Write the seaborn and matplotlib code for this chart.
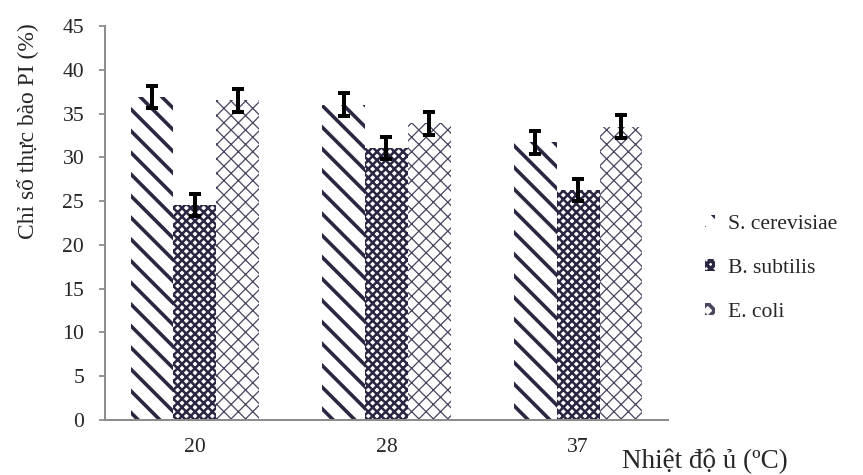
import pandas as pd
import matplotlib as mpl
import matplotlib.pyplot as plt
import numpy as np
import seaborn as sns

sns.set_style('white')
plt.rcParams['font.family'] = ['Liberation Serif', 'DejaVu Serif']
mpl.rcParams['hatch.linewidth'] = 2.0

temps = ['20', '28', '37']
strains = ['S. cerevisiae', 'B. subtilis', 'E. coli']
s_cerevisiae = [36.9, 36.0, 31.7]
b_subtilis = [24.6, 31.1, 26.3]
e_coli = [36.5, 33.9, 33.5]
err_sc = [1.3, 1.3, 1.3]
err_bs = [1.25, 1.25, 1.25]
err_ec = [1.3, 1.3, 1.3]

df = pd.DataFrame({
    'temp': temps * 3,
    'strain': np.repeat(strains, 3),
    'pi': s_cerevisiae + b_subtilis + e_coli,
})
errs = [err_sc, err_bs, err_ec]
hatches = ['\\\\', 'xxxxx', 'xxx']
edges = ['#2b2742', '#2b2742', '#4a4660']
hlw = [2.0, 1.4, 0.7]

dpi = 130
fig = plt.figure(figsize=(863 / dpi, 475 / dpi), dpi=dpi)
ax = fig.add_axes([105 / 863, 1 - 420 / 475, 563 / 863, 394 / 475])

sns.barplot(data=df, x='temp', y='pi', hue='strain', order=temps, hue_order=strains,
            palette=['white'] * 3, width=0.67, errorbar=None, ax=ax, legend=False)

for cont, h, ec, lw, e in zip(ax.containers, hatches, edges, hlw, errs):
    xs, ys = [], []
    for p in cont.patches:
        p.set_hatch(h)
        p.set_edgecolor(ec)
        p.set_linewidth(0)
        if hasattr(p, 'set_hatch_linewidth'):
            p.set_hatch_linewidth(lw)
        xs.append(p.get_x() + p.get_width() / 2)
        ys.append(p.get_height())
    ax.errorbar(xs, ys, yerr=e, fmt='none', ecolor='black', elinewidth=2.2,
                capsize=3.5, capthick=2.2, zorder=5)

ax.set_ylim(0, 45)
ax.set_yticks(range(0, 50, 5))
ax.set_xlabel('')
ax.set_ylabel('')
sns.despine(ax=ax)
for s in ['left', 'bottom']:
    ax.spines[s].set_color('#8c8c8c')
    ax.spines[s].set_linewidth(1.1)
ax.tick_params(axis='y', direction='out', length=3.5, width=1.0, color='#8c8c8c',
               left=True, labelsize=12, pad=8)
ax.tick_params(axis='x', length=0, labelsize=12, pad=10)

fig.text(27 / 863, 1 - 131 / 475, 'Chỉ số thực bào PI (%)', rotation=90,
         ha='center', va='center', fontsize=13)
fig.text(622 / 863, 1 - 461 / 475, 'Nhiệt độ ủ (ºC)', ha='left', va='center',
         fontsize=15)

handles = []
for h, ec, lw in zip(hatches, edges, hlw):
    hp = mpl.patches.Patch(facecolor='white', edgecolor=ec, hatch=h, linewidth=0)
    if hasattr(hp, 'set_hatch_linewidth'):
        hp.set_hatch_linewidth(lw)
    handles.append(hp)
fig.legend(handles, strains, loc='upper left', bbox_to_anchor=(705 / 863, 1 - 215 / 475),
           frameon=False, fontsize=12, handlelength=0.45, handleheight=0.45,
           handletextpad=0.6, labelspacing=1.15, borderaxespad=0, borderpad=0)

plt.savefig('out.png', dpi=dpi)
